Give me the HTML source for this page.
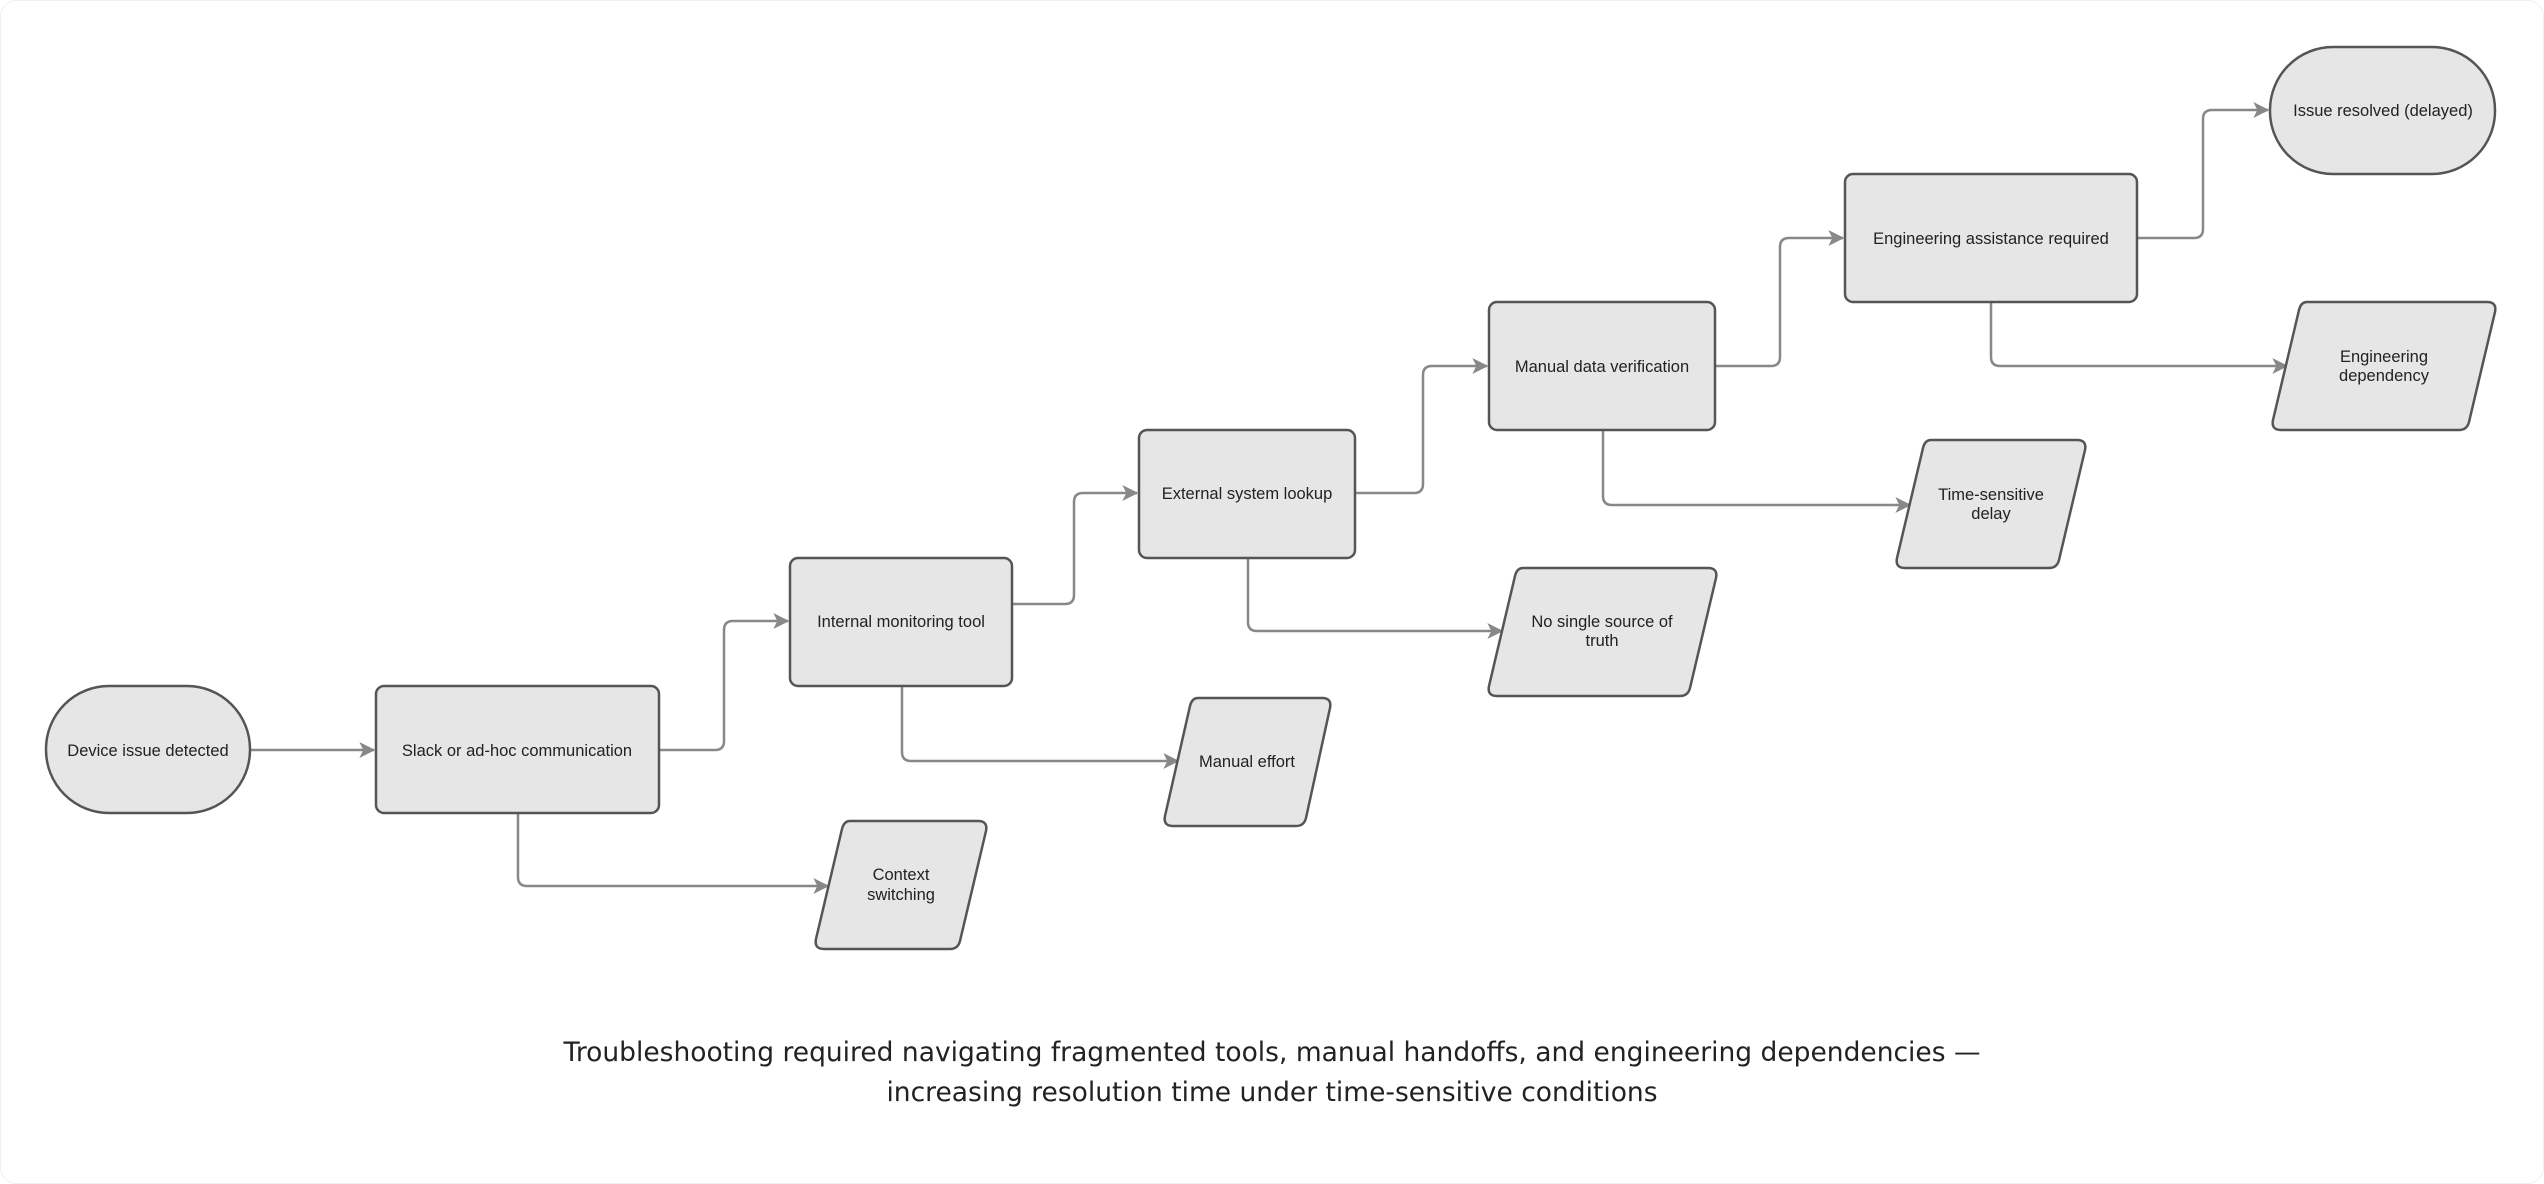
<!DOCTYPE html>
<html><head><meta charset="utf-8"><style>
html,body{margin:0;padding:0;background:#fff;}
svg{display:block;}
</style></head><body>
<svg width="2544" height="1184" viewBox="0 0 2544 1184" xmlns="http://www.w3.org/2000/svg">
<defs>
<marker id="ar" viewBox="0 0 12 12" refX="11" refY="6" markerWidth="16" markerHeight="16" markerUnits="userSpaceOnUse" orient="auto"><path d="M0,0 L12,6 L0,12 L3,6 Z" fill="#888"/></marker>
</defs>
<rect x="0.5" y="0.5" width="2543" height="1183" rx="16" fill="#fff" stroke="#f0f0f0"/>
<g fill="none" stroke="#888" stroke-width="2.5" marker-end="url(#ar)">
<path d="M250,750 H374"/>
<path d="M659,750 H715 Q724,750 724,741 V630 Q724,621 733,621 H788"/>
<path d="M1012,604 H1065 Q1074,604 1074,595 V502 Q1074,493 1083,493 H1137"/>
<path d="M1355,493 H1414 Q1423,493 1423,484 V375 Q1423,366 1432,366 H1487"/>
<path d="M1715,366 H1771 Q1780,366 1780,357 V247 Q1780,238 1789,238 H1843"/>
<path d="M2137,238 H2194 Q2203,238 2203,229 V119 Q2203,110 2212,110 H2268"/>
<path d="M518,813 V877 Q518,886 527,886 H828"/>
<path d="M902,686 V752 Q902,761 911,761 H1178"/>
<path d="M1248,558 V622 Q1248,631 1257,631 H1502"/>
<path d="M1603,430 V496 Q1603,505 1612,505 H1910"/>
<path d="M1991,302 V357 Q1991,366 2000,366 H2287"/>
</g>
<g fill="#e6e6e6" stroke="#555" stroke-width="2.5">
<rect x="46" y="686" width="204" height="127" rx="63"/>
<rect x="376" y="686" width="283" height="127" rx="8"/>
<rect x="790" y="558" width="222" height="128" rx="8"/>
<rect x="1139" y="430" width="216" height="128" rx="8"/>
<rect x="1489" y="302" width="226" height="128" rx="8"/>
<rect x="1845" y="174" width="292" height="128" rx="8"/>
<rect x="2270" y="47" width="225" height="127" rx="63"/>
<path d="M850,821 H978 Q988,821 986,831 L960,941 Q958,949 950,949 H824 Q814,949 816,939 L842,829 Q844,821 850,821 Z"/>
<path d="M1198,698 H1322 Q1332,698 1330,708 L1306,818 Q1304,826 1296,826 H1173 Q1163,826 1165,816 L1190,706 Q1192,698 1198,698 Z"/>
<path d="M1523,568 H1708 Q1718,568 1716,578 L1690,688 Q1688,696 1680,696 H1497 Q1487,696 1489,686 L1515,576 Q1517,568 1523,568 Z"/>
<path d="M1931,440 H2077 Q2087,440 2085,450 L2059,560 Q2057,568 2049,568 H1905 Q1895,568 1897,558 L1923,448 Q1925,440 1931,440 Z"/>
<path d="M2307,302 H2487 Q2497,302 2495,312 L2469,422 Q2467,430 2459,430 H2281 Q2271,430 2273,420 L2299,310 Q2301,302 2307,302 Z"/>
</g>
<g font-family="Liberation Sans, Arial, sans-serif" font-size="16.5" fill="#222" text-anchor="middle">
<text x="148" y="756">Device issue detected</text>
<text x="517" y="756">Slack or ad-hoc communication</text>
<text x="901" y="627">Internal monitoring tool</text>
<text x="1247" y="499">External system lookup</text>
<text x="1602" y="372">Manual data verification</text>
<text x="1991" y="244">Engineering assistance required</text>
<text x="2383" y="116">Issue resolved (delayed)</text>
<text x="901" y="880">Context</text><text x="901" y="900">switching</text>
<text x="1247" y="767">Manual effort</text>
<text x="1602" y="627">No single source of</text><text x="1602" y="646">truth</text>
<text x="1991" y="500">Time-sensitive</text><text x="1991" y="519">delay</text>
<text x="2384" y="362">Engineering</text><text x="2384" y="381">dependency</text>
</g>
<g font-family="DejaVu Sans, Liberation Sans, sans-serif" font-size="26.5" fill="#222" text-anchor="middle">
<text x="1272" y="1061">Troubleshooting required navigating fragmented tools, manual handoffs, and engineering dependencies —</text>
<text x="1272" y="1101">increasing resolution time under time-sensitive conditions</text>
</g>
</svg>
</body></html>
